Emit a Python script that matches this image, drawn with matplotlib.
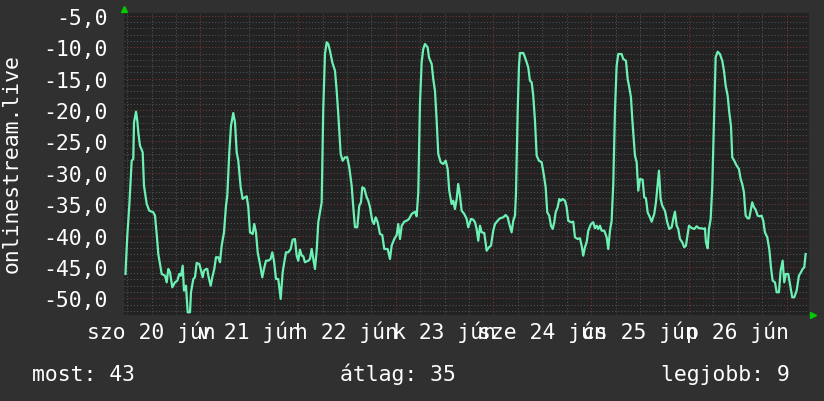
import matplotlib
matplotlib.use("Agg")
import matplotlib.pyplot as plt

# --------------------------------------------------
# DATA  (hours since 2020-06-20 00:00, value)
# --------------------------------------------------
hours = [
    5.58, 5.70, 6.02, 6.51, 7.10, 7.49, 7.67, 8.16, 8.48, 8.72, 9.14, 9.80, 10.12, 10.79,
    11.43, 12.41, 12.83, 13.24, 13.64, 14.47, 15.28, 15.70, 16.09, 16.51, 17.08, 17.74,
    18.31, 18.80, 19.21, 19.63, 19.95, 20.44, 20.86, 21.43, 21.67, 22.24, 22.65, 23.07,
    23.71, 24.05, 24.55, 24.86, 25.36, 25.68, 25.92, 26.51, 27.00, 27.40, 27.81, 28.38,
    28.80, 29.21, 29.78, 30.27, 30.59, 31.08, 31.50, 32.06, 32.48, 32.90, 33.29, 33.88,
    34.37, 34.94, 35.36, 35.75, 36.17, 36.83, 37.22, 37.64, 38.06, 38.62, 39.19, 39.60,
    40.10, 40.66, 41.25, 41.64, 42.06, 42.55, 43.12, 43.71, 44.20, 44.59, 45.01, 45.58,
    46.17, 46.66, 47.22, 47.64, 48.03, 48.45, 48.87, 49.26, 49.68, 50.49, 50.91, 51.32,
    51.72, 52.14, 52.55, 52.95, 53.36, 53.78, 54.17, 54.59, 55.01, 55.40, 55.82, 56.39,
    57.05, 57.47, 57.86, 58.45, 58.94, 59.51, 60.07, 60.56, 61.15, 61.55, 61.96, 62.53,
    63.02, 63.44, 63.76, 64.25, 64.84, 65.23, 65.65, 66.21, 66.63, 67.05, 67.54, 68.11,
    68.67, 69.16, 70.00, 70.56, 70.98, 71.62, 72.21, 72.60, 73.02, 73.44, 74.08, 74.67,
    75.23, 75.89, 76.71, 77.12, 77.52, 77.93, 78.35, 78.74, 79.16, 79.82, 80.14, 80.81,
    81.20, 81.62, 82.04, 82.43, 83.02, 83.66, 84.25, 84.74, 85.13, 85.72, 86.12, 86.53,
    86.95, 87.34, 87.76, 88.18, 88.82, 89.41, 89.80, 90.46, 91.03, 91.45, 91.86, 92.26,
    92.68, 93.09, 93.73, 94.32, 94.89, 95.38, 95.94, 96.36, 97.02, 97.59, 98.40, 98.99,
    99.48, 99.88, 100.46, 100.86, 101.28, 101.52, 101.94, 102.26, 102.50, 103.32, 103.73,
    104.15, 104.54, 104.96, 105.38, 105.77, 106.19, 106.61, 107.17, 107.84, 108.40,
    108.82, 109.21, 109.70, 110.12, 110.54, 110.93, 111.27, 111.77, 112.16, 112.58,
    112.99, 113.56, 113.98, 114.37, 115.03, 115.60, 116.02, 116.68, 117.25, 117.66,
    118.06, 118.47, 118.89, 119.29, 119.95, 120.51, 120.93, 121.35, 121.74, 122.16,
    122.58, 123.22, 123.81, 124.20, 124.62, 125.03, 125.43, 125.85, 126.26, 126.66,
    127.49, 127.88, 128.55, 128.97, 129.36, 129.78, 130.10, 130.76, 131.18, 131.57,
    131.99, 132.65, 133.04, 133.46, 133.88, 134.44, 134.86, 135.50, 135.92, 136.24,
    136.66, 137.07, 137.47, 138.13, 138.70, 139.19, 139.78, 140.17, 140.59, 141.01,
    141.40, 141.82, 142.38, 142.87, 143.29, 143.61, 144.03, 144.69, 145.33, 145.92,
    146.48, 147.15, 147.54, 147.96, 148.20, 148.62, 148.94, 149.36, 149.75, 150.17,
    150.59, 151.08, 151.64, 152.21, 152.63, 153.05, 153.54, 153.93, 154.35, 154.67,
    155.16, 155.75, 156.31, 156.73, 157.12, 157.54, 157.96, 158.45, 158.84, 159.26,
    159.58, 160.00, 160.42, 160.91, 161.47, 161.89, 162.28, 162.70, 163.27, 163.76,
    164.18, 164.59, 165.16, 165.58, 166.14, 166.56, 167.05, 167.44, 167.86, 168.43,
    168.84, 169.41, 169.90, 170.49, 171.05, 171.55, 171.96, 172.36, 172.70,
]

values = [
    -46.12, -44.26, -40.02, -35.24, -28.07, -27.80, -21.95, -20.26, -21.70, -23.54, -25.68,
    -26.73, -32.05, -34.97, -36.04, -36.29, -36.83, -39.75, -42.94, -46.12, -46.39, -47.45,
    -45.33, -45.85, -48.24, -47.45, -47.19, -46.12, -46.39, -44.80, -48.78, -47.99, -52.23,
    -52.23, -49.04, -46.92, -46.65, -44.37, -44.53, -45.33, -46.65, -45.60, -45.33, -45.33,
    -46.39, -47.99, -46.39, -45.33, -43.46, -43.46, -44.26, -41.61, -39.48, -35.24, -33.65,
    -26.73, -22.49, -20.47, -21.95, -26.73, -28.07, -32.31, -34.17, -33.90, -33.74, -35.49,
    -39.48, -39.75, -38.16, -39.48, -42.67, -44.53, -46.65, -45.33, -44.00, -44.00, -43.73,
    -42.67, -44.00, -46.92, -46.92, -50.10, -45.85, -44.26, -42.67, -42.67, -42.14, -40.66,
    -40.55, -43.20, -44.00, -42.25, -43.20, -43.30, -44.26, -44.00, -43.73, -42.14, -43.73,
    -45.33, -42.41, -37.88, -36.29, -34.70, -19.83, -11.07, -9.20, -9.47, -10.54, -12.39,
    -13.73, -16.92, -20.63, -27.00, -28.07, -27.53, -27.53, -29.12, -32.05, -35.49, -38.68,
    -38.68, -35.24, -34.70, -32.31, -32.47, -33.90, -34.44, -35.49, -37.63, -38.16, -37.09,
    -37.88, -39.75, -39.91, -42.14, -42.14, -43.73, -41.61, -40.55, -39.91, -38.16, -40.55,
    -38.43, -37.79, -37.63, -37.36, -36.56, -36.20, -36.93, -33.10, -19.03, -12.39, -10.27,
    -9.47, -10.00, -11.59, -12.66, -15.05, -16.92, -21.70, -27.00, -28.32, -28.59, -28.07,
    -29.39, -32.85, -34.97, -34.44, -35.77, -34.17, -31.78, -33.65, -36.04, -36.56, -37.36,
    -38.68, -37.36, -37.47, -37.88, -38.95, -40.82, -38.43, -39.48, -39.59, -42.41, -41.87,
    -41.61, -39.22, -38.16, -37.63, -37.25, -37.09, -36.72, -37.09, -38.16, -39.48, -37.63,
    -36.83, -33.38, -20.36, -12.93, -10.91, -10.91, -11.59, -12.39, -13.19, -15.32, -15.58,
    -17.71, -21.70, -27.27, -28.07, -28.32, -30.46, -32.31, -36.29, -36.83, -38.43, -38.95,
    -37.88, -36.29, -35.49, -34.17, -34.44, -34.17, -34.44, -35.49, -37.63, -37.88, -37.79,
    -40.27, -40.55, -40.43, -41.61, -43.20, -41.87, -41.07, -39.22, -38.16, -37.88, -38.84,
    -38.43, -38.95, -38.43, -39.22, -39.22, -40.27, -42.14, -39.22, -37.63, -31.78, -20.10,
    -12.93, -11.07, -11.07, -11.86, -12.14, -15.05, -16.37, -17.97, -21.42, -27.27, -28.32,
    -32.85, -30.99, -31.10, -33.90, -34.06, -36.29, -37.09, -37.79, -36.56, -34.70, -32.47,
    -29.66, -34.17, -35.24, -36.04, -37.88, -38.95, -38.68, -37.36, -36.20, -38.43, -38.95,
    -40.55, -41.07, -41.87, -41.61, -40.27, -38.43, -38.79, -38.95, -38.52, -38.84, -38.84,
    -38.95, -38.84, -41.07, -42.03, -38.95, -37.36, -32.31, -21.95, -11.59, -10.70, -11.07,
    -12.14, -13.73, -16.12, -17.71, -20.36, -22.49, -27.53, -28.07, -28.87, -29.39, -30.99,
    -31.78, -33.10, -36.83, -37.25, -37.25, -35.77, -34.70, -35.49, -35.88, -36.83, -36.93,
    -36.83, -37.63, -39.48, -40.27, -42.14, -45.05, -47.19, -47.45, -49.04, -49.04, -45.60,
    -44.00, -47.45, -46.12, -46.12, -47.72, -49.84, -49.84, -48.78, -46.39, -45.85, -45.33,
    -45.05, -42.94,
]

day_labels = ["szo 20 jún", "v 21 jún", "h 22 jún", "k 23 jún",
              "sze 24 jún", "cs 25 jún", "p 26 jún"]
day_noons = [12, 36, 60, 84, 108, 132, 156]

y_ticks = [-50, -45, -40, -35, -30, -25, -20, -15, -10, -5]
y_tick_labels = ["-50,0", "-45,0", "-40,0", "-35,0", "-30,0",
                 "-25,0", "-20,0", "-15,0", "-10,0", "-5,0"]

y_title = "onlinestream.live"
summary = ["most: 43", "átlag: 35", "legjobb: 9"]

# --------------------------------------------------
# STYLE
# --------------------------------------------------
BG = "#303030"
PLOT_BG = "#222222"
LINE = "#6cf0b4"
GRID_MINOR = "#525252"
GRID_MAJOR = "#7a3636"
ARROW = "#00cc00"
FS = 15.4

plt.rcParams["font.family"] = ["DejaVu Sans Mono"]

W, H = 824, 402
fig = plt.figure(figsize=(W / 100, H / 100), dpi=100, facecolor=BG)
ax = fig.add_axes([124 / W, 1 - 315.5 / H, (809.3 - 124) / W, (315.5 - 14) / H])
ax.set_facecolor(PLOT_BG)
ax.set_xlim(5.21, 173.6)
ax.set_ylim(-52.58, -4.53)

# grid: 1 unit / 6 h minor (grey), 5 units / midnight major (red)
dots = (0, (1, 2))
for v in range(-52, -4):
    ax.axhline(v, color=GRID_MAJOR if v % 5 == 0 else GRID_MINOR,
               lw=0.75, ls=dots, zorder=1)
for h in range(6, 174, 6):
    ax.axvline(h, color=GRID_MAJOR if h % 24 == 0 else GRID_MINOR,
               lw=0.75, ls=dots, zorder=1)

ax.plot(hours, values, color=LINE, lw=1.6, zorder=3)

ax.set_yticks(y_ticks, y_tick_labels)
ax.set_xticks(day_noons, day_labels)
ax.tick_params(axis="y", length=0, pad=12, labelsize=FS, colors="white")
ax.tick_params(axis="x", length=0, pad=4.5, labelsize=FS, colors="white")
for s in ax.spines.values():
    s.set_visible(False)

# rrdtool style axis arrows
ax.plot([0], [1.012], marker="^", color=ARROW, ms=5, transform=ax.transAxes, clip_on=False)
ax.plot([1.006], [0], marker=">", color=ARROW, ms=5, transform=ax.transAxes, clip_on=False)

fig.text(11.5 / W, 1 - 164 / H, y_title, rotation=90, ha="center", va="center",
         fontsize=FS, color="white")

fig.text(32 / W, 1 - 381.5 / H, summary[0], ha="left", va="baseline", fontsize=FS, color="white")
fig.text(340 / W, 1 - 381.5 / H, summary[1], ha="left", va="baseline", fontsize=FS, color="white")
fig.text(661 / W, 1 - 381.5 / H, summary[2], ha="left", va="baseline", fontsize=FS, color="white")

fig.savefig("out.png", dpi=100, facecolor=BG)
